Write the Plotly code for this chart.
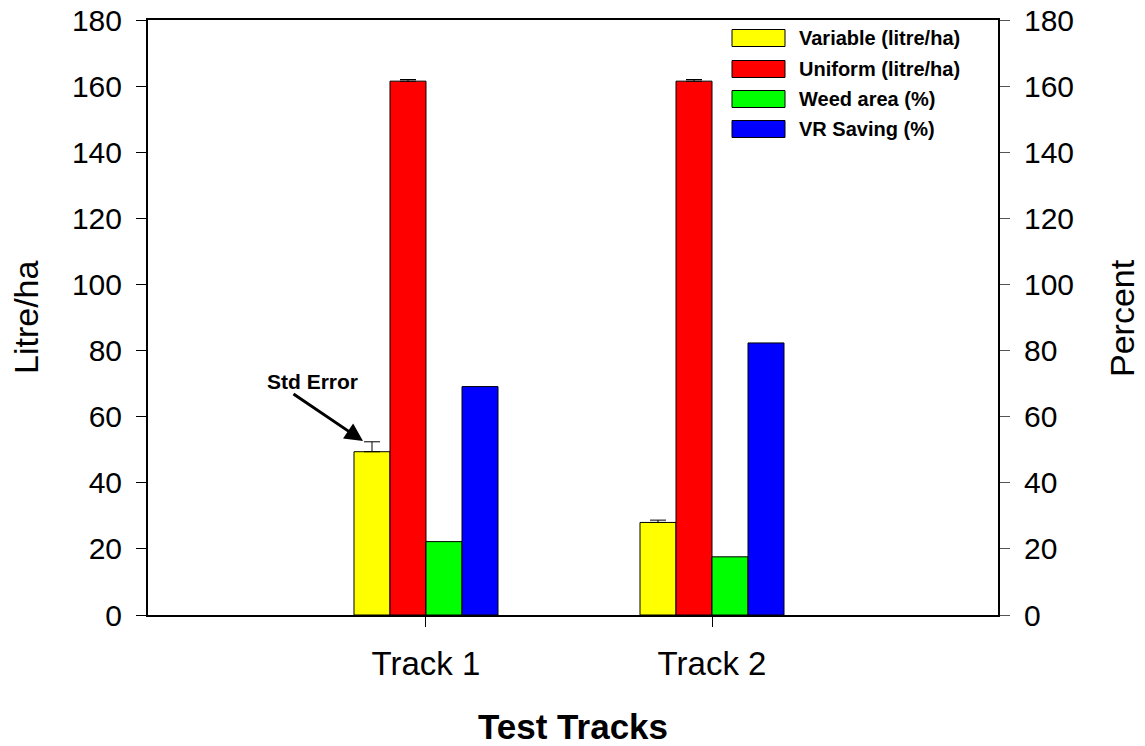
import plotly.graph_objects as go

# ---- data ----
categories = ["Track 1", "Track 2"]
series_names = ["Variable (litre/ha)", "Uniform (litre/ha)", "Weed area (%)", "VR Saving (%)"]
variable = [49.4, 28.0]
uniform = [161.5, 161.5]
weed_area = [22.2, 17.6]
vr_saving = [69.1, 82.3]
variable_err = [3.0, 0.7]
uniform_err = [0.5, 0.5]
series_colors = ["#FFFF00", "#FF0000", "#00FF00", "#0000FF"]
y_ticks = [0, 20, 40, 60, 80, 100, 120, 140, 160, 180]

FONT = "Liberation Sans, Arial, sans-serif"

values = [variable, uniform, weed_area, vr_saving]
errors = [variable_err, uniform_err, None, None]

fig = go.Figure()
for name, vals, err, col in zip(series_names, values, errors, series_colors):
    kw = {}
    if err is not None:
        kw["error_y"] = dict(type="data", array=err, arrayminus=[0] * len(err),
                             symmetric=False, color="black", thickness=1, width=8)
    fig.add_trace(go.Bar(x=categories, y=vals, name=name, marker_color=col,
                         marker_line=dict(color="black", width=1), showlegend=False, **kw))

# invisible trace to activate the right axis
fig.add_trace(go.Scatter(x=categories, y=vr_saving, yaxis="y2", mode="markers",
                         marker=dict(opacity=0), showlegend=False, hoverinfo="skip"))

# page body has an 8px margin: compensate
OFF = 8
L, R, T, B = 148, 998, 20, 615   # plot area in screen coords
W, H = 1145 - OFF, 746 - OFF

def px(x):
    return (x - L) / (R - L)

def py(y):
    return (B - y) / (B - T)

shapes = []
annotations = []
# custom legend
row_centers = [38, 69, 99, 129]
for name, col, yc in zip(series_names, series_colors, row_centers):
    shapes.append(dict(type="rect", xref="paper", yref="paper",
                       x0=px(732), x1=px(785), y0=py(yc + 8.5), y1=py(yc - 8.5),
                       fillcolor=col, line=dict(color="black", width=1)))
    annotations.append(dict(xref="paper", yref="paper", x=px(797), y=py(yc),
                            text="<b>" + name + "</b>", showarrow=False, xanchor="left",
                            yanchor="middle",
                            font=dict(family=FONT, size=20, color="black")))

# Std Error annotation
annotations.append(dict(xref="paper", yref="paper", x=px(312), y=py(381), text="<b>Std Error</b>",
                        showarrow=False, xanchor="center", yanchor="middle",
                        font=dict(family=FONT, size=21, color="black")))
annotations.append(dict(xref="paper", yref="paper", x=px(363), y=py(441), text="",
                        showarrow=True, arrowhead=2, arrowsize=1.2, arrowwidth=3,
                        arrowcolor="black", ax=-71, ay=-48, standoff=0))

# axis titles
annotations.append(dict(xref="paper", yref="paper", x=px(26), y=py(318), text="Litre/ha",
                        textangle=-90, showarrow=False, xanchor="center", yanchor="middle",
                        font=dict(family=FONT, size=34, color="black")))
annotations.append(dict(xref="paper", yref="paper", x=px(1122), y=py(318), text="Percent",
                        textangle=-90, showarrow=False, xanchor="center", yanchor="middle",
                        font=dict(family=FONT, size=34, color="black")))
annotations.append(dict(xref="paper", yref="paper", x=px(573), y=py(726), text="<b>Test Tracks</b>",
                        showarrow=False, xanchor="center", yanchor="middle",
                        font=dict(family=FONT, size=35, color="black")))

fig.update_layout(
    width=W, height=H,
    margin=dict(l=L - OFF, r=W - (R - OFF), t=T - OFF, b=H - (B - OFF), autoexpand=False),
    paper_bgcolor="white", plot_bgcolor="white",
    barmode="group", bargap=0.4965, bargroupgap=0,
    shapes=shapes, annotations=annotations,
    xaxis=dict(type="category", range=[-0.972, 2.0], showline=True, linecolor="black",
               linewidth=2, mirror=True, ticks="outside", ticklen=10, tickcolor="black",
               tickfont=dict(family=FONT, size=33, color="black"), showgrid=False,
               zeroline=False, automargin=False, ticklabelstandoff=8),
    yaxis=dict(range=[0, 180], tickvals=y_ticks, showline=True, linecolor="black", linewidth=2,
               ticks="outside", ticklen=10, tickcolor="black", showgrid=False, zeroline=False,
               tickfont=dict(family=FONT, size=30, color="black"), ticklabelstandoff=8,
               automargin=False, ticklabeloverflow="allow"),
    yaxis2=dict(range=[0, 180], tickvals=y_ticks, overlaying="y", side="right", showline=True,
                linecolor="black", linewidth=2, ticks="outside", ticklen=10, tickcolor="#555555",
                showgrid=False, zeroline=False,
                tickfont=dict(family=FONT, size=30, color="black"), ticklabelstandoff=8,
                automargin=False, ticklabeloverflow="allow"),
)

fig.write_html("out.html")
